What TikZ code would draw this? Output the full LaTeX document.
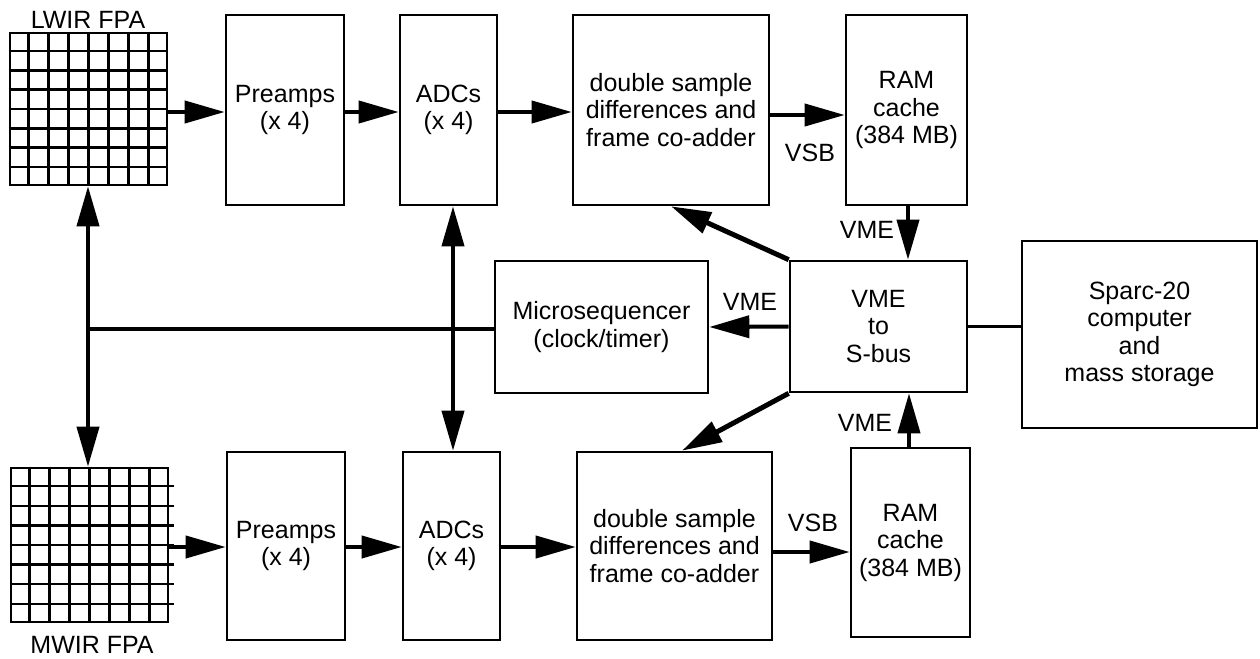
\documentclass[tikz,border=0pt]{standalone}
\usepackage{fontspec}
\setmainfont{Liberation Sans}
\usetikzlibrary{arrows.meta,calc}
\begin{document}
\begin{tikzpicture}[x=0.5pt,y=-0.5pt,
  box/.style={draw, line width=1.3pt, align=center, inner sep=0pt, font=\fontsize{12.5}{13.75}\selectfont},
  lbl/.style={inner sep=0pt, font=\fontsize{12.5}{13.75}\selectfont},
  tip/.tip={Triangle[length=20pt,width=11pt]},
  conn/.style={line width=2pt, -tip},
  dconn/.style={line width=2pt, tip-tip},
  diag/.style={line width=2.5pt, -tip},
  bus/.style={line width=1.9pt},
  gridl/.style={line width=1.2pt},
  fpa/.style={draw, line width=1.3pt, inner sep=0pt, minimum width=78.5pt}
]
\useasboundingbox (0,0) rectangle (1260,659);

% focal plane arrays
\node[fpa, minimum height=76pt] (lw) at (88.5,109) {};
\node[fpa, minimum height=77pt] (mw) at (89.5,545) {};
\foreach \i in {1,...,7} {
  \draw[gridl] ($(lw.north west)!\i/8!(lw.north east)$) -- ($(lw.south west)!\i/8!(lw.south east)$);
  \draw[gridl] ($(lw.north west)!\i/8!(lw.south west)$) -- ($(lw.north east)!\i/8!(lw.south east)$);
  \draw[gridl] ($(mw.north west)!\i/8!(mw.north east)$) -- ($(mw.south west)!\i/8!(mw.south east)$);
  \draw[gridl] ($(mw.north west)!\i/8!(mw.south west)$) -- ([xshift=2.5pt]$(mw.north east)!\i/8!(mw.south east)$);
}
\node[lbl] (lwl) at (88,20) {LWIR FPA};
\node[lbl] (mwl) at (92,645) {MWIR FPA};

% top chain
\node[box, minimum width=59pt, minimum height=95pt] (pre1) at (285,110) {Preamps\\(x 4)};
\node[box, minimum width=48.5pt, minimum height=95pt] (adc1) at (448.5,110) {ADCs\\(x 4)};
\node[box, minimum width=98pt, minimum height=95pt] (dsd1) at (671,110) {double sample\\differences and\\frame co-adder};
\node[box, minimum width=60.5pt, minimum height=95pt] (ram1) at (906.5,110) {RAM\\cache\\(384 MB)};

% bottom chain
\node[box, minimum width=59pt, minimum height=94pt] (pre2) at (286,546) {Preamps\\(x 4)};
\node[box, minimum width=48.5pt, minimum height=94pt] (adc2) at (451.5,546) {ADCs\\(x 4)};
\node[box, minimum width=97.5pt, minimum height=94pt] (dsd2) at (674.5,546) {double sample\\differences and\\frame co-adder};
\node[box, minimum width=59.5pt, minimum height=94.5pt] (ram2) at (910.5,542.5) {RAM\\cache\\(384 MB)};

% middle
\node[box, minimum width=106.5pt, minimum height=66pt] (micro) at (601.5,327) {Microsequencer\\(clock/timer)};
\node[box, minimum width=88.5pt, minimum height=65.5pt] (vme) at (878.5,326.5) {VME\\to\\S-bus};
\node[box, minimum width=117.5pt, minimum height=93.5pt] (sparc) at (1139.5,334.5) {Sparc-20\\computer\\and\\mass storage};

% data flow top
\draw[conn] (lw.east |- 0,112) -- (pre1.west |- 0,112);
\draw[conn] (pre1.east |- 0,112) -- (adc1.west |- 0,112);
\draw[conn] (adc1.east |- 0,112) -- (dsd1.west |- 0,112);
\draw[conn] (dsd1.east |- 0,115) -- (ram1.west |- 0,115);
\node[lbl] (vsb1) at (810,153) {VSB};

% data flow bottom
\draw[conn] (mw.east |- 0,547) -- (pre2.west |- 0,547);
\draw[conn] (pre2.east |- 0,547) -- (adc2.west |- 0,547);
\draw[conn] (adc2.east |- 0,547) -- (dsd2.west |- 0,547);
\draw[conn] (dsd2.east |- 0,552) -- (ram2.west |- 0,552);
\node[lbl] (vsb2) at (813,523) {VSB};

% VME links
\draw[conn] (ram1.south -| 908,0) -- (vme.north -| 908,0);
\node[lbl] (vme1) at (867,230) {VME};
\draw[conn] (ram2.north -| 909,0) -- (vme.south -| 909,0);
\node[lbl] (vme2) at (865,423) {VME};
\draw[conn] (vme.west) -- (micro.east);
\node[lbl] (vme3) at (750,302) {VME};
\draw[diag] (vme.north west) -- (dsd1.south);
\draw[diag] (vme.south west) -- (dsd2.north -| 682,0);
\draw[bus] (vme.east) -- (sparc.west |- vme.east);

% clock distribution
\draw[dconn] (adc1.south -| 453,0) -- (adc2.north -| 453,0);
\draw[dconn] (lw.south -| 88,0) -- (mw.north -| 88,0);
\coordinate (j) at (88,329);
\draw[bus] (micro.west |- j) -- (j);
\end{tikzpicture}
\end{document}
